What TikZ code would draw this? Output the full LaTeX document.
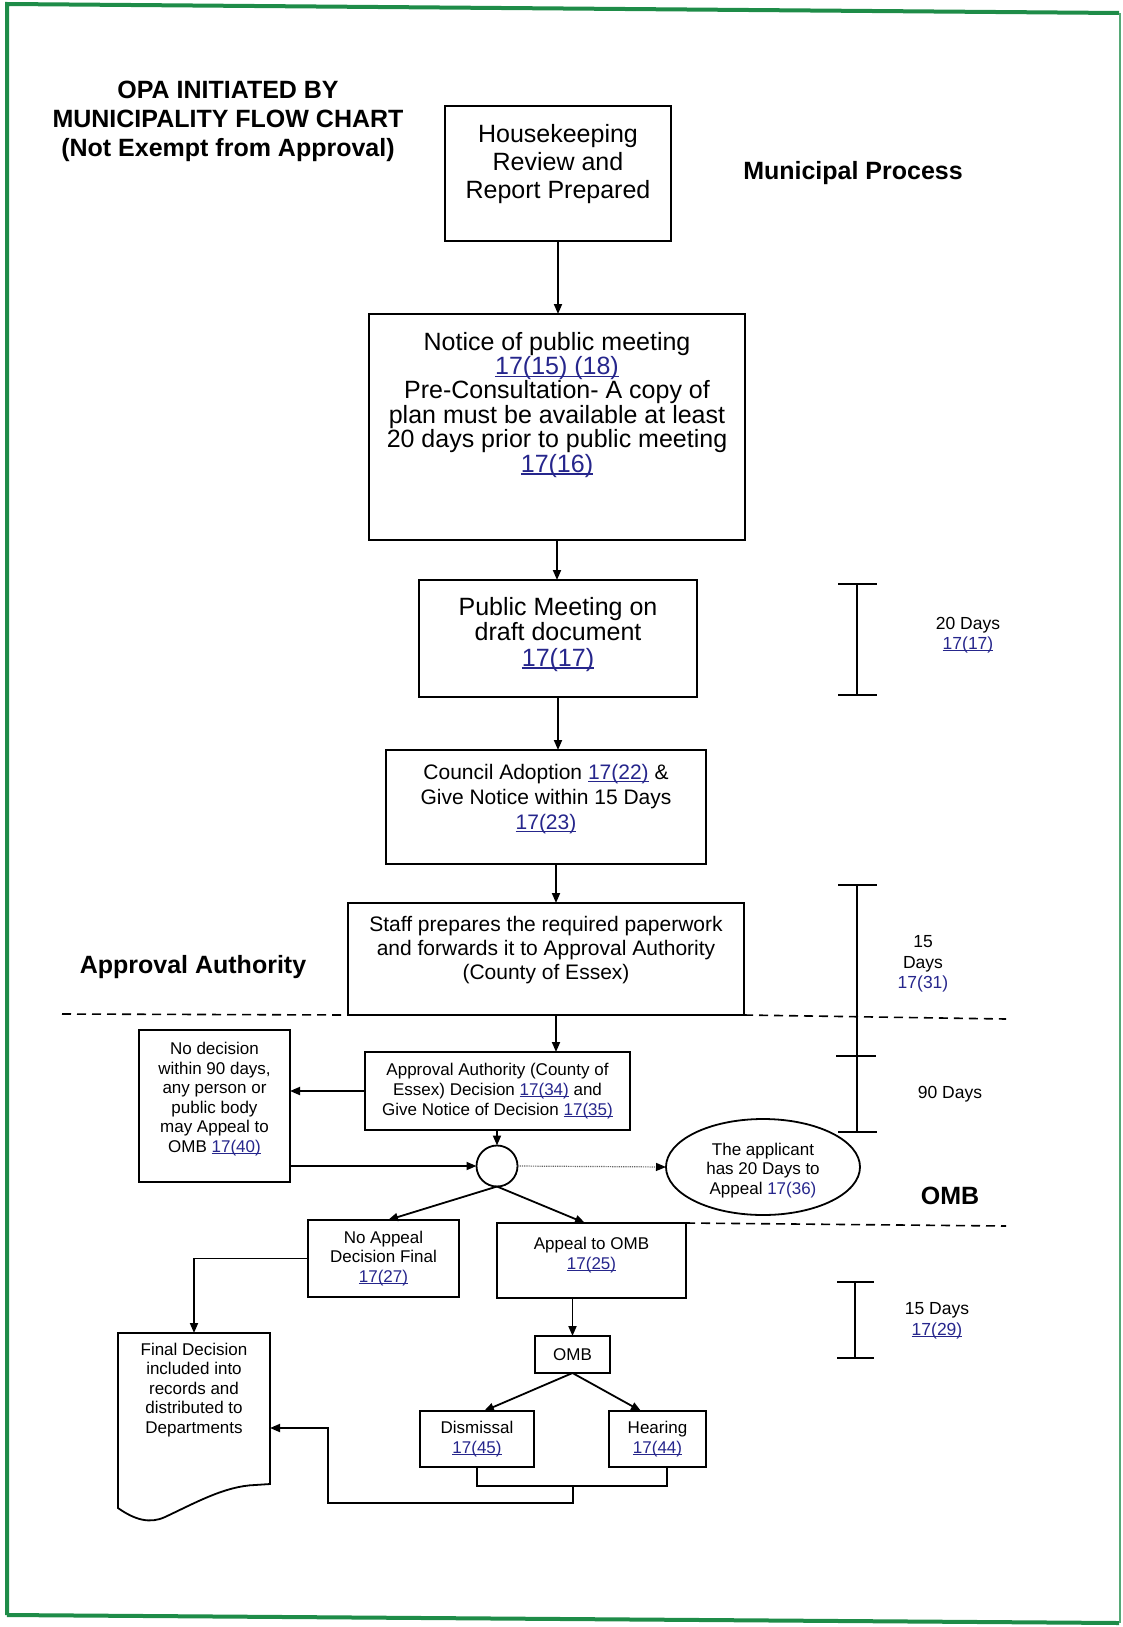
\documentclass[tikz,border=0pt]{standalone}
\usepackage{fontspec}
\setmainfont{Liberation Sans}
\usetikzlibrary{arrows.meta,shapes.geometric}
\definecolor{linkblue}{RGB}{38,38,140}
\definecolor{framegreen}{RGB}{30,140,72}
% section references: underlined links and plain blue references
\newsavebox\lnkbox
\newcommand{\lnk}[1]{\sbox\lnkbox{\color{linkblue}#1}\textcolor{linkblue}{\rlap{\rule[-0.11em]{\wd\lnkbox}{0.06em}}}\usebox\lnkbox}
\newcommand{\blu}[1]{\textcolor{linkblue}{#1}}
% invisible struts that move the text block inside a box
\newcommand{\pushup}[1]{\rule[-#1]{0pt}{#1}}
\newcommand{\pushdown}[1]{\rule{0pt}{#1}}
\begin{document}
\begin{tikzpicture}[x=1pt,y=-1pt,
  every node/.style={inner sep=0pt, outer sep=0pt},
  box/.style={draw, line width=1.8pt, fill=white, align=center},
  conn/.style={line width=1.8pt},
  arr/.style={line width=1.8pt, -{Triangle[length=10pt,width=8pt]}},
  dotarr/.style={line width=1.2pt, densely dotted, gray!80!black, -{Triangle[length=10pt,width=8pt,color=black]}},
  dashline/.style={line width=1.6pt, dash pattern=on 9pt off 6pt},
  head/.style={font=\bfseries\fontsize{25}{29}\selectfont, align=center},
  fbig/.style={font=\fontsize{25}{28}\selectfont},
  fmid/.style={font=\fontsize{21}{25}\selectfont},
  fsmall/.style={font=\fontsize{17}{19.5}\selectfont},
  lab/.style={font=\fontsize{17.5}{20.5}\selectfont, align=center}]
\useasboundingbox (0,0) rectangle (1122,1627);

% page frame
\draw[framegreen, line width=4pt] (7,1615) -- (7,4) -- (1119,13);
\draw[framegreen, line width=4pt] (7,1615) -- (1119,1623);
\draw[framegreen!75, line width=2pt] (1120,13) -- (1120,1623);

% headings
\node[head] (title) at (228,121) {OPA INITIATED BY\\MUNICIPALITY FLOW CHART\\(Not Exempt from Approval)};
\node[head] (munproc) at (853,173) {Municipal Process};
\node[head] (apprauth) at (193,967) {Approval Authority};
\node[head] (ombhead) at (950,1196) {OMB};

% municipal process boxes
\node[box, fbig, minimum width=226pt, minimum height=135pt] (hk) at (558,173.5)
  {Housekeeping\\Review and\\Report Prepared\pushup{24pt}};
\node[box, font=\fontsize{25}{24.4}\selectfont, minimum width=376pt, minimum height=226pt] (notice) at (557,427)
  {Notice of public meeting\\\lnk{17(15) (18)}\\Pre-Consultation- A copy of\\plan must be available at least\\20 days prior to public meeting\\\lnk{17(16)}\pushup{50pt}};
\node[box, font=\fontsize{25}{25.5}\selectfont, minimum width=278pt, minimum height=117pt] (pub) at (558,638.5)
  {Public Meeting on\\draft document\\\lnk{17(17)}\pushup{14pt}};
\node[box, fmid, minimum width=320pt, minimum height=114pt] (council) at (546,807)
  {Council Adoption \lnk{17(22)} \&\\Give Notice within 15 Days\\\lnk{17(23)}\pushup{20pt}};
\node[box, font=\fontsize{21}{24}\selectfont, minimum width=396pt, minimum height=112pt] (staff) at (546,959)
  {Staff prepares the required paperwork\\and forwards it to Approval Authority\\(County of Essex)\pushup{22pt}};

% approval authority
\node[box, font=\fontsize{17}{20}\selectfont, minimum width=265pt, minimum height=78pt] (appr) at (497.5,1091)
  {Approval Authority (County of\\Essex) Decision \lnk{17(34)} and\\Give Notice of Decision \lnk{17(35)}};
\node[box, fsmall, minimum width=151pt, minimum height=152pt] (left) at (214.5,1106)
  {No decision\\within 90 days,\\any person or\\public body\\may Appeal to\\OMB \lnk{17(40)}\pushup{17pt}};
\node[draw, circle, line width=1.8pt, fill=white, minimum size=41pt] (circ) at (497,1166) {};
\node[draw, ellipse, line width=1.8pt, fill=white, fsmall, align=center, minimum width=194pt, minimum height=96pt] (ell) at (763,1167)
  {\pushdown{19pt}The applicant\\has 20 Days to\\Appeal \blu{17(36)}};

% OMB stage
\node[box, fsmall, minimum width=151pt, minimum height=77pt] (noap) at (383.5,1258.5)
  {No Appeal\\Decision Final\\\lnk{17(27)}};
\node[box, fsmall, minimum width=189pt, minimum height=75pt] (appeal) at (591.5,1260.5)
  {Appeal to OMB\\\lnk{17(25)}\pushup{14pt}};
\node[box, fsmall, minimum width=75pt, minimum height=37pt] (omb) at (572.5,1354.5) {OMB};
\node[box, fsmall, minimum width=114pt, minimum height=56pt] (dism) at (477,1439)
  {Dismissal\\\lnk{17(45)}};
\node[box, fsmall, minimum width=97pt, minimum height=56pt] (hear) at (657.5,1439)
  {Hearing\\\lnk{17(44)}};

% document shape with the final decision
\node[fsmall, align=center, minimum width=152pt, minimum height=114pt] (doc) at (194,1390)
  {Final Decision\\included into\\records and\\distributed to\\Departments};
\draw[conn] (doc.north west) -- (doc.north east) -- (270,1484) -- (255,1485)
  .. controls (225,1486) and (195,1503) .. (165,1517)
  .. controls (150,1524) and (135,1520) .. (118,1508) -- cycle;

% section boundaries
\draw[dashline] (62,1014) -- (staff.south west);
\draw[dashline] (staff.south east) -- (1006,1019);
\draw[dashline] (appeal.north east) -- (1006,1226);

% time brackets and labels
\draw[conn] (838,584) -- (877,584) (857,584) -- (857,695) (838,695) -- (877,695);
\draw[conn] (838,885) -- (877,885) (857,885) -- (857,1132) (836,1056) -- (876,1056) (838,1132) -- (877,1132);
\draw[conn] (837,1282) -- (874,1282) (855,1282) -- (855,1358) (837,1358) -- (874,1358);
\node[lab] (d20) at (968,635) {20 Days\\\lnk{17(17)}};
\node[lab] (d15a) at (923,964) {15\\Days\\\blu{17(31)}};
\node[lab] (d90) at (950,1094) {90 Days};
\node[lab] (d15b) at (937,1321) {15 Days\\\lnk{17(29)}};

% connectors
\coordinate (col) at (556,0);
\draw[arr] (hk.south) -- (hk.south |- notice.north);
\draw[arr] (notice.south) -- (notice.south |- pub.north);
\draw[arr] (pub.south) -- (pub.south |- council.north);
\draw[arr] (col |- council.south) -- (col |- staff.north);
\draw[arr] (col |- staff.south) -- (col |- appr.north);
\draw[arr] (appr.west) -- (appr.west -| left.east);
\draw[arr] (circ.north |- appr.south) -- (circ.north);
\draw[arr] (left.east |- circ.west) -- (circ.west);
\draw[dotarr] (circ.east) -- (ell.west);
\draw[arr] (circ.south) -- ([xshift=4.5pt]noap.north);
\draw[arr] (circ.south) -- ([xshift=-6.5pt]appeal.north);
\draw[arr] (noap.west) -| (doc.north);
\draw[arr] (omb.north |- appeal.south) -- (omb.north);
\draw[arr] (omb.south) -- ([xshift=7pt]dism.north);
\draw[arr] (omb.south) -- ([xshift=-16.5pt]hear.north);
\coordinate (jn) at (573,1486);
\coordinate (bend) at (328,1503);
\draw[conn] (dism.south) |- (jn) -| ([xshift=9.5pt]hear.south);
\draw[arr] (jn) |- (bend) |- ([yshift=-38pt]doc.east);
\end{tikzpicture}
\end{document}
